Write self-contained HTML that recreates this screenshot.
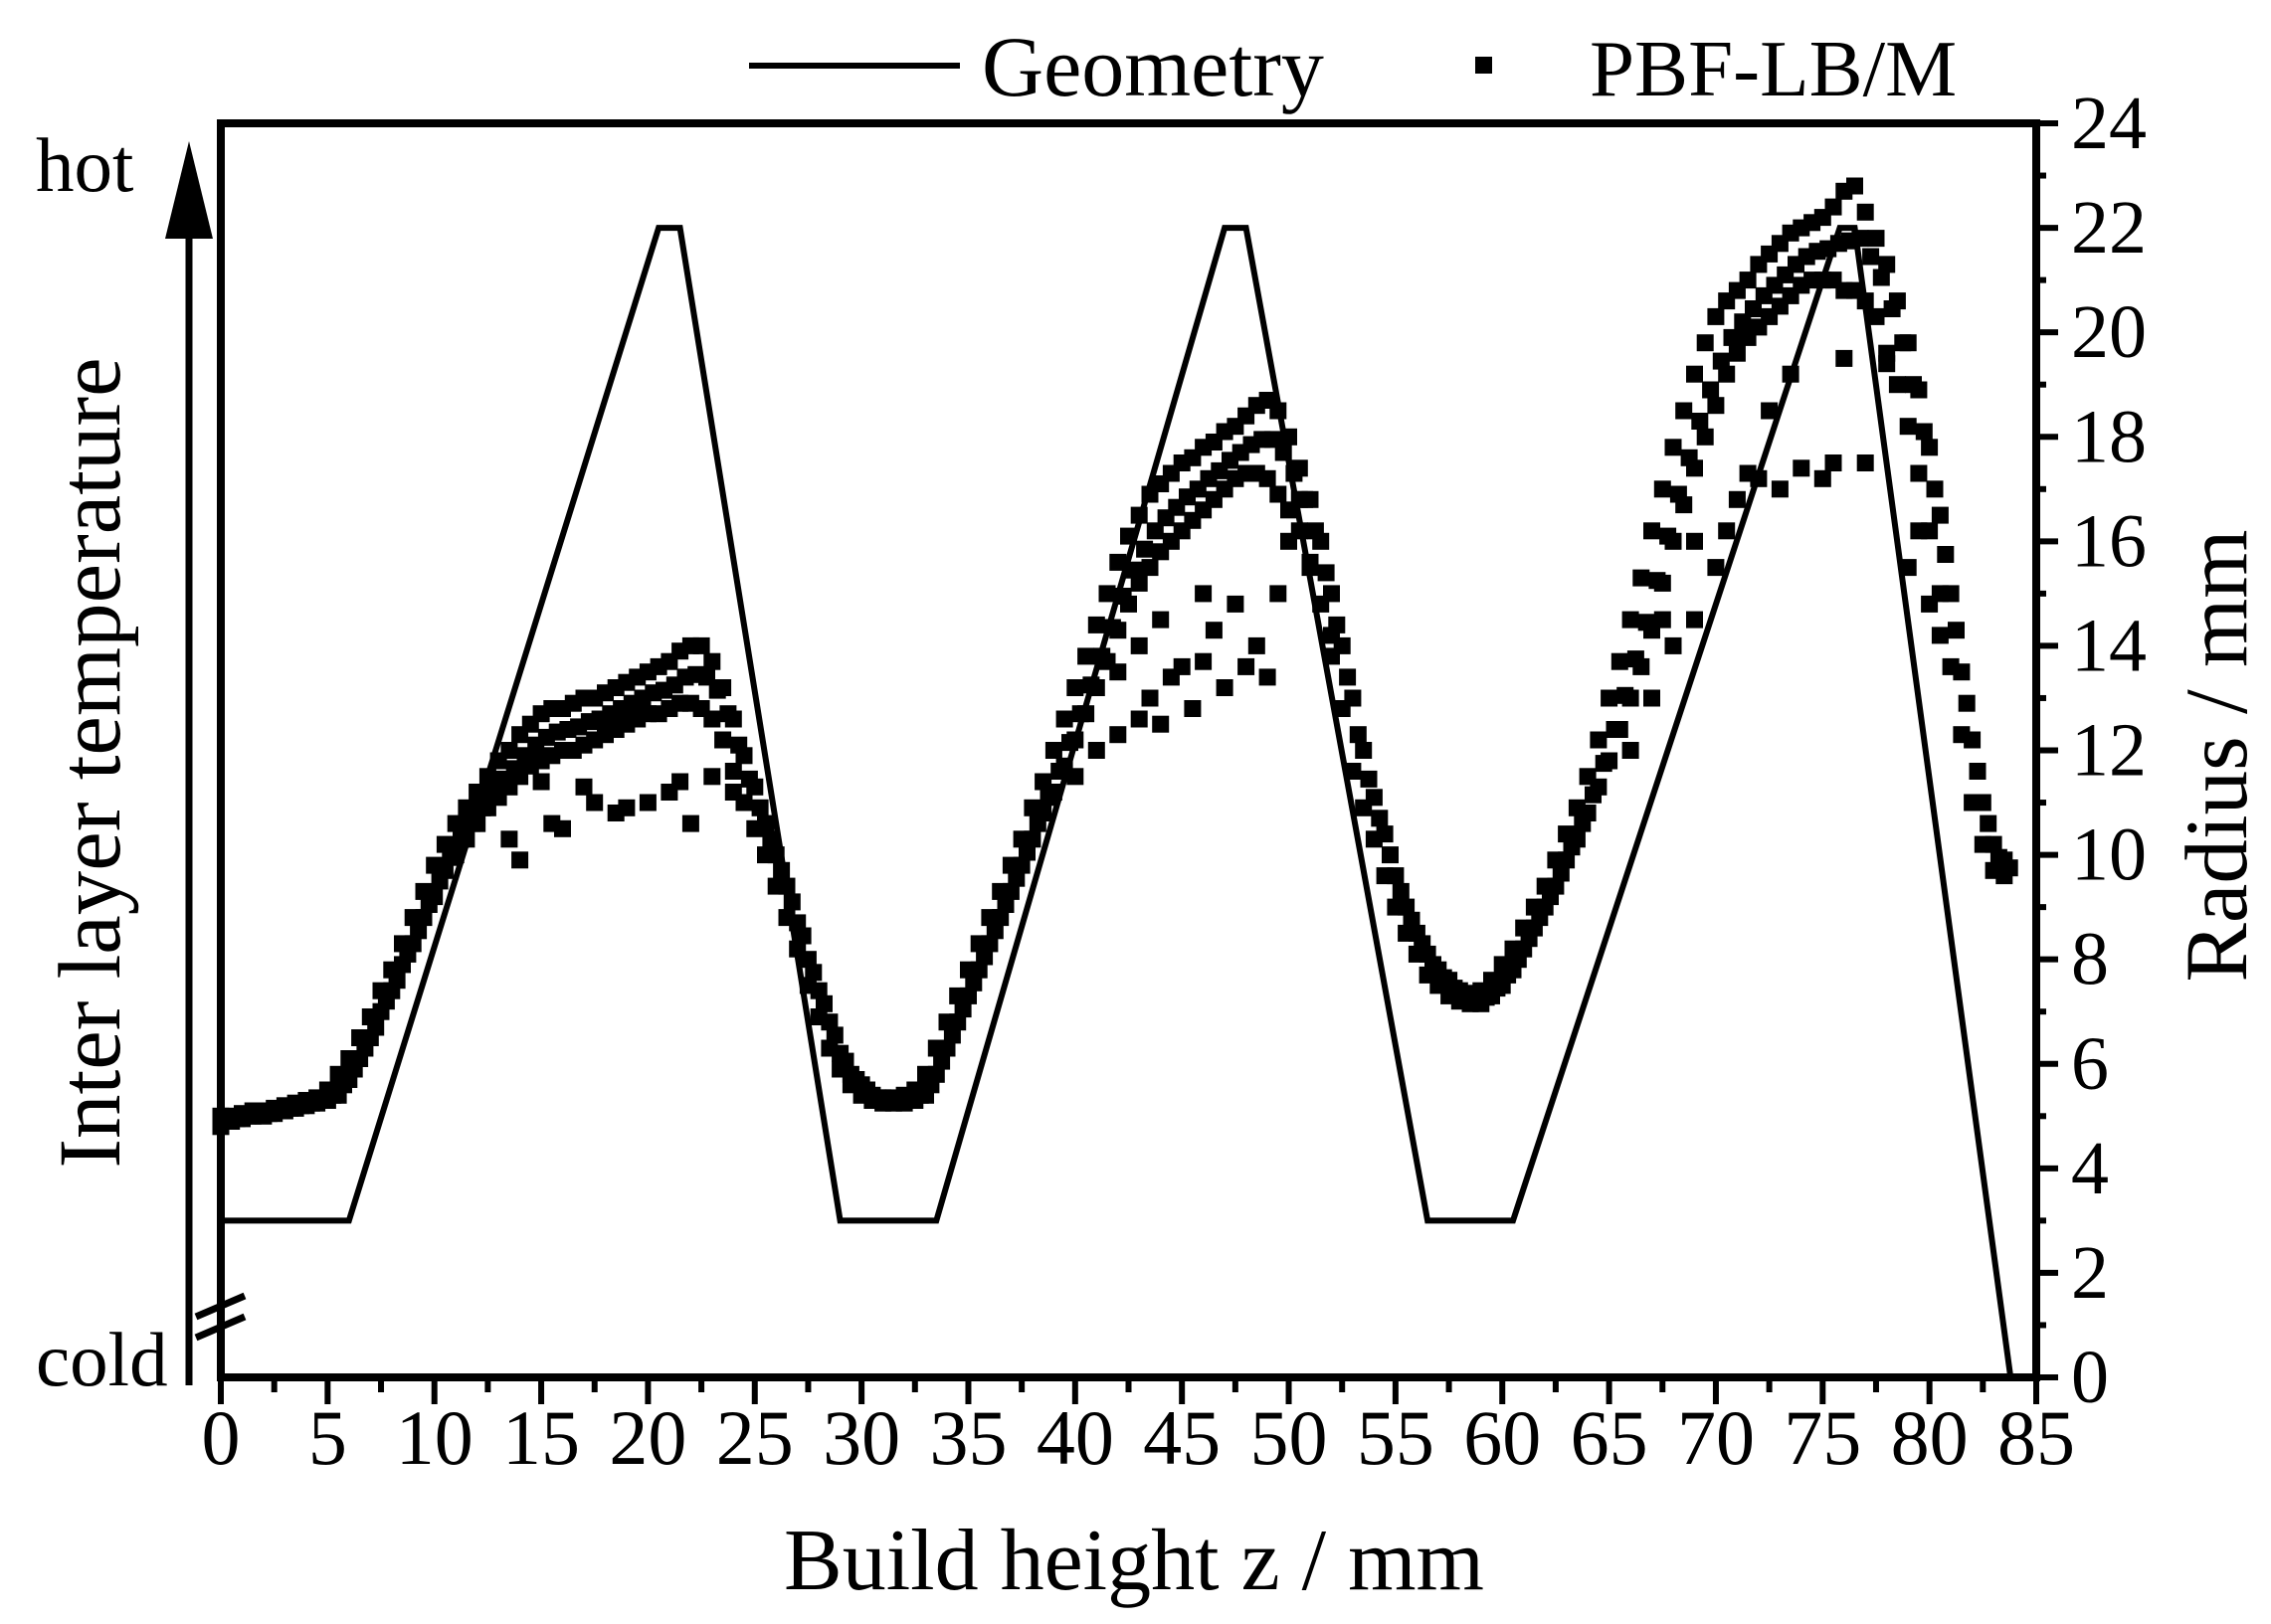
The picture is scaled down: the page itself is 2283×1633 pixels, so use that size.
<!DOCTYPE html>
<html><head><meta charset="utf-8"><style>
html,body{margin:0;padding:0;background:#fff}
svg{display:block}
text{font-family:"Liberation Serif",serif;fill:#000}
</style></head><body>
<svg id="chart" width="2283" height="1633" viewBox="0 0 2283 1633" xmlns="http://www.w3.org/2000/svg">
<g id="geom"></g>
<g id="pts"></g>
<g id="axes"></g>
<g>
<line x1="753" y1="66" x2="965" y2="66" stroke="#000" stroke-width="6"/>
<text x="987" y="96" font-size="86">Geometry</text>
<rect x="1483" y="57" width="17" height="17" fill="#000"/>
<text x="1598" y="96" font-size="81">PBF-LB/M</text>
</g>
<text x="1140" y="1598" font-size="88" text-anchor="middle">Build height z / mm</text>
<text transform="translate(2258,760) rotate(-90)" font-size="89" text-anchor="middle">Radius / mm</text>
<text transform="translate(120,767) rotate(-90)" font-size="89" text-anchor="middle">Inter layer temperature</text>
<text x="36" y="192" font-size="77">hot</text>
<text x="36" y="1393" font-size="77">cold</text>
<line x1="190" y1="230" x2="190" y2="1393" stroke="#000" stroke-width="7"/>
<polygon points="190,142 166,240 214,240" fill="#000"/>
</svg>
<script>
const xTicks=[0,5,10,15,20,25,30,35,40,45,50,55,60,65,70,75,80,85];
const yTicks=[0,2,4,6,8,10,12,14,16,18,20,22,24];
const geomZ=[0,6,20.5,21.5,29,33.5,47,48,56.5,60.5,75.8,76.5,83.8];
const geomR=[3,3,22,22,3,3,22,22,3,3,22,22,0];
const bandZStart=0, bandZStep=0.5;
const rHi=[5.0,5.0,5.05,5.1,5.1,5.15,5.2,5.25,5.3,5.35,5.5,5.8,6.1,6.5,6.9,7.4,7.8,8.3,8.8,9.3,9.8,10.2,10.6,10.9,11.2,11.5,11.8,12.0,12.3,12.5,12.7,12.8,12.8,12.9,13.0,13.0,13.1,13.2,13.3,13.4,13.5,13.6,13.7,13.9,14.0,14.0,13.7,13.2,12.6,11.9,11.3,10.6,10.0,9.4,8.7,8.0,7.4,6.8,6.2,5.8,5.6,5.4,5.35,5.35,5.4,5.5,5.8,6.3,6.8,7.3,7.8,8.3,8.8,9.3,9.8,10.3,10.9,11.4,12.0,12.6,13.2,13.8,14.4,15.0,15.6,16.1,16.5,16.9,17.1,17.3,17.5,17.6,17.8,17.9,18.1,18.2,18.4,18.6,18.7,18.5,18.0,17.4,16.8,16.0,15.0,14.0,13.0,12.0,11.1,10.4,9.6,9.0,8.5,8.1,7.8,7.6,7.4,7.35,7.4,7.6,7.9,8.2,8.6,9.0,9.4,9.9,10.4,10.9,11.5,12.2,13.0,13.7,14.5,15.3,16.2,17.0,17.8,18.5,19.2,19.8,20.3,20.6,20.8,21.0,21.3,21.5,21.7,21.9,22.0,22.1,22.2,22.4,22.7,22.8,22.3,21.8,21.3,20.6,19.8,18.9,17.8,16.5,15.0,13.5,12.2,11.0,10.2,9.9];
const rLo=[4.8,4.9,4.95,5.0,5.0,5.05,5.1,5.15,5.2,5.25,5.3,5.4,5.7,6.1,6.5,7.0,7.4,7.9,8.3,8.8,9.2,9.7,10.0,10.3,10.6,10.9,11.1,11.3,11.5,11.7,11.8,11.9,12.0,12.0,12.1,12.2,12.3,12.4,12.5,12.6,12.7,12.7,12.8,12.9,12.9,12.8,12.6,12.2,11.6,11.0,10.5,10.0,9.4,8.8,8.2,7.5,6.9,6.3,5.9,5.6,5.4,5.3,5.25,5.25,5.25,5.3,5.4,5.8,6.3,6.8,7.3,7.8,8.3,8.8,9.3,9.8,10.3,10.8,11.2,11.7,12.2,12.7,13.2,13.7,14.3,14.8,15.2,15.5,15.8,16.0,16.2,16.4,16.6,16.8,17.0,17.2,17.3,17.3,17.2,16.9,16.6,16.2,15.6,14.8,13.8,12.8,11.6,10.9,10.3,9.6,9.0,8.5,8.1,7.7,7.5,7.3,7.2,7.15,7.15,7.3,7.5,7.8,8.2,8.6,9.0,9.4,9.9,10.3,10.8,11.3,11.8,12.4,13.0,13.6,14.3,15.2,16.0,16.7,17.4,18.0,18.6,19.2,19.6,19.9,20.1,20.3,20.5,20.7,20.9,21.0,21.0,21.0,20.8,20.8,20.6,20.3,19.6,19.0,18.2,17.3,16.2,15.0,13.6,12.3,11.0,10.2,9.7,9.6];
const outZ=[13.5,14,15.5,16,17.5,18.5,19,20,21,21.5,22,23,24,12,15,17,40,41,42,43,43.5,44,44.5,45,45.5,46,46.5,47,47.5,48,48.5,49,49.5,50,50.5,51,46,44,43,42,52,66,67,68,69,70,70.5,71,71.5,72,73,74,75,75.5,76,77,73.5,72.5,69,67.5,78,79,80,79.5,80.5];
const outR=[10.3,9.9,10.6,10.5,11.0,10.8,10.9,11.0,11.2,11.4,10.6,11.5,11.2,10.6,11.4,11.3,11.5,12.0,12.3,12.6,13.0,12.5,13.4,13.6,12.8,13.7,14.3,13.2,14.8,13.6,14.0,13.4,15.0,16.0,16.8,15.5,15.0,14.5,14.0,13.5,14.2,12.0,13.0,14.0,14.5,15.5,16.2,16.8,17.3,17.2,17.0,17.4,17.2,17.5,19.5,17.5,19.2,18.5,16.0,14.5,19.4,15.5,14.8,16.2,14.2];

const X0=222,X1=2047,Y0=1385,Y1=124;
const xs=z=>X0+(z/85)*(X1-X0);
const ys=r=>Y0-(r/24)*(Y0-Y1);
const NS='http://www.w3.org/2000/svg';
function mk(tag,attrs,parent){const e=document.createElementNS(NS,tag);for(const k in attrs)e.setAttribute(k,attrs[k]);parent.appendChild(e);return e;}

const geomG=document.getElementById('geom');
let d='';geomZ.forEach((z,i)=>{d+=(i?'L':'M')+xs(z).toFixed(1)+','+ys(geomR[i]).toFixed(1);});
const gl=mk('path',{d:d,fill:'none',stroke:'#000','stroke-width':6,'stroke-linejoin':'miter'},geomG);



const ptsG=document.getElementById('pts');
const S=17;
function pt(z,r){const e=mk('rect',{x:(xs(z)-S/2).toFixed(1),y:(ys(r)-S/2).toFixed(1),width:S,height:S,fill:'#000'},ptsG);

}
rHi.forEach((r,i)=>{const z=bandZStart+i*bandZStep;pt(z,r);pt(z,rLo[i]);pt(z+0.25,(r+rLo[i])/2);});
outZ.forEach((z,i)=>pt(z,outR[i]));

const axG=document.getElementById('axes');
const lw=8;
const topLine=mk('line',{x1:X0-lw/2,y1:Y1,x2:X1+lw/2,y2:Y1,stroke:'#000','stroke-width':lw},axG);


const botLine=mk('line',{x1:X0-lw/2,y1:Y0,x2:X1+lw/2,y2:Y0,stroke:'#000','stroke-width':lw},axG);


const lftLine=mk('line',{x1:X0,y1:Y1,x2:X0,y2:Y0+lw/2,stroke:'#000','stroke-width':lw},axG);


const rgtLine=mk('line',{x1:X1,y1:Y1,x2:X1,y2:Y0+lw/2,stroke:'#000','stroke-width':lw},axG);


const brk1=mk('line',{x1:197,y1:1324,x2:246,y2:1303,stroke:'#000','stroke-width':7},axG);


const brk2=mk('line',{x1:197,y1:1345,x2:246,y2:1324,stroke:'#000','stroke-width':7},axG);


xTicks.forEach((v,i)=>{const x=xs(v);
 const t=mk('line',{x1:x,y1:Y0,x2:x,y2:Y0+27,stroke:'#000','stroke-width':6},axG);
 
 
 if(i<xTicks.length-1){const m=xs(v+2.5);const mt=mk('line',{x1:m,y1:Y0,x2:m,y2:Y0+15,stroke:'#000','stroke-width':6},axG);
 
 }
 const tx=mk('text',{x:x,y:1472,'font-size':78,'text-anchor':'middle'},axG);tx.textContent=v;
 
 
});
yTicks.forEach((v,i)=>{const y=ys(v);
 const t=mk('line',{x1:X1,y1:y,x2:X1+22,y2:y,stroke:'#000','stroke-width':6},axG);
 
 
 if(i<yTicks.length-1){const m=ys(v+1);const mt=mk('line',{x1:X1,y1:m,x2:X1+10,y2:m,stroke:'#000','stroke-width':6},axG);
 
 }
 const tx=mk('text',{x:2082,y:y+25,'font-size':76},axG);tx.textContent=v;
 
 
});
</script>
</body></html>
